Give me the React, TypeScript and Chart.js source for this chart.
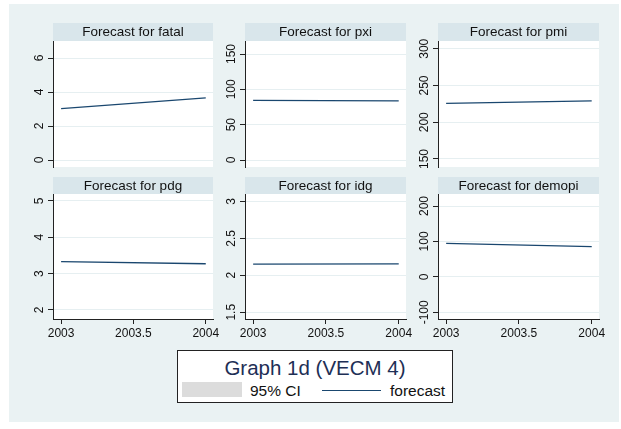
import React, { useEffect, useRef } from "react";
import { Chart, registerables } from "chart.js";

Chart.register(...registerables);

// ---- data ----
const years = [2003, 2004];
const xTicks = [2003, 2003.5, 2004];

const fatal = [3.02, 3.66];
const pxi = [84.5, 83.6];
const pmi = [225.6, 229.1];
const pdg = [3.33, 3.27];
const idg = [2.15, 2.155];
const demopi = [94.5, 85.3];

const fatalTicks = [0, 2, 4, 6];
const pxiTicks = [0, 50, 100, 150];
const pmiTicks = [150, 200, 250, 300];
const pdgTicks = [2, 3, 4, 5];
const idgTicks = [1.5, 2, 2.5, 3];
const demopiTicks = [-100, 0, 100, 200];

const panelNames = ["fatal", "pxi", "pmi", "pdg", "idg", "demopi"];
const panelValues = [fatal, pxi, pmi, pdg, idg, demopi];
const panelTicks = [fatalTicks, pxiTicks, pmiTicks, pdgTicks, idgTicks, demopiTicks];
const panelMin = [-0.41, -9.9, 139.1, 1.75, 1.409, -118.9];
const panelMax = [7.0, 168.4, 310.5, 5.19, 3.099, 233.9];
const xMin = 2002.944;
const xMax = 2004.05;

const legendTitle = "Graph 1d (VECM 4)";
const legendCI = "95% CI";
const legendForecast = "forecast";

// ---- layout ----
const colL = [53, 245, 438];
const colR = [213, 406, 599];
const rowT = [23, 177];
const rowPT = [41, 194];
const rowPB = [167, 319];
const AXW = 30;
const PADR = 16;
const XAXH = 26;

const FONT = '"Liberation Sans", Arial, Helvetica, sans-serif';
const NAVY = "#1a476f";
const AXIS = "#222";

function Panel({ idx }: { idx: number }) {
  const ref = useRef<HTMLCanvasElement>(null);
  const col = idx % 3;
  const row = Math.floor(idx / 3);
  const bottom = row === 1;
  const left = colL[col] - AXW;
  const width = colR[col] - colL[col] + AXW + PADR;
  const top = rowT[row];
  const height = rowPB[row] - rowT[row] + (bottom ? XAXH : 2);

  useEffect(() => {
    if (!ref.current) return;
    const ticks = panelTicks[idx];
    const vals = panelValues[idx];
    const panelPlugin = {
      id: "panelDeco",
      beforeDraw(chart: any) {
        const { ctx, chartArea } = chart;
        ctx.save();
        ctx.fillStyle = "#ffffff";
        ctx.fillRect(chartArea.left, chartArea.top, chartArea.right - chartArea.left, chartArea.bottom - chartArea.top);
        ctx.fillStyle = "#d9e6eb";
        ctx.fillRect(chartArea.left, 0, chartArea.right - chartArea.left, chartArea.top);
        ctx.fillStyle = "#111";
        ctx.font = `13.5px ${FONT}`;
        ctx.textAlign = "center";
        ctx.textBaseline = "middle";
        ctx.fillText("Forecast for " + panelNames[idx], (chartArea.left + chartArea.right) / 2, chartArea.top / 2 + 0.5);
        ctx.restore();
      },
      afterDraw(chart: any) {
        const { ctx, chartArea } = chart;
        const ys = chart.scales.y;
        ctx.save();
        ctx.fillStyle = "#111";
        ctx.font = `12px ${FONT}`;
        ctx.textAlign = "center";
        ctx.textBaseline = "middle";
        ys.ticks.forEach((t: any) => {
          const py = ys.getPixelForValue(t.value);
          ctx.save();
          ctx.translate(chartArea.left - 13, py);
          ctx.rotate(-Math.PI / 2);
          ctx.fillText(String(t.value), 0, 0);
          ctx.restore();
        });
        if (bottom) {
          const xs = chart.scales.x;
          xs.ticks.forEach((t: any) => {
            const px = xs.getPixelForValue(t.value);
            ctx.fillText(String(t.value), px, chartArea.bottom + 15);
          });
        }
        ctx.restore();
      },
    };
    const chart = new Chart(ref.current, {
      type: "line",
      data: {
        datasets: [
          {
            label: "forecast",
            data: years.map((y, i) => ({ x: y, y: vals[i] })),
            borderColor: NAVY,
            borderWidth: 1.3,
            pointRadius: 0,
            fill: false,
          },
        ],
      },
      options: {
        animation: false,
        responsive: false,
        devicePixelRatio: 1,
        layout: { padding: { left: 0, right: PADR, top: rowPT[row] - rowT[row], bottom: bottom ? 0 : 2 } },
        plugins: { legend: { display: false }, tooltip: { enabled: false }, title: { display: false } },
        scales: {
          x: {
            type: "linear",
            min: xMin,
            max: xMax,
            display: bottom,
            afterBuildTicks: (s: any) => {
              s.ticks = xTicks.map((v) => ({ value: v }));
            },
            afterFit: (s: any) => {
              s.height = bottom ? XAXH : 0;
            },
            ticks: { display: false },
            grid: { drawOnChartArea: false, drawTicks: true, tickLength: 5, color: AXIS, tickColor: AXIS },
            border: { display: true, color: AXIS, width: 1 },
          },
          y: {
            type: "linear",
            min: panelMin[idx],
            max: panelMax[idx],
            afterBuildTicks: (s: any) => {
              s.ticks = ticks.map((v) => ({ value: v }));
            },
            afterFit: (s: any) => {
              s.width = AXW;
            },
            ticks: { display: false },
            grid: { drawOnChartArea: true, drawTicks: true, tickLength: 5, color: "#e6eff1", tickColor: AXIS },
            border: { display: true, color: AXIS, width: 1 },
          },
        },
      },
      plugins: [panelPlugin],
    });
    return () => chart.destroy();
  }, [idx]);

  return (
    <canvas
      ref={ref}
      width={width}
      height={height}
      style={{ position: "absolute", left, top, width, height }}
    />
  );
}

export default function App() {
  return (
    <div
      style={{
        position: "fixed",
        left: 0,
        top: 0,
        width: 621,
        height: 429,
        background: "#ffffff",
        fontFamily: FONT,
        overflow: "hidden",
      }}
    >
      <div style={{ position: "absolute", left: 9, top: 4, width: 610, height: 418, background: "#eaf2f3" }} />
      {panelNames.map((_, i) => (
        <Panel key={i} idx={i} />
      ))}
      <div
        style={{
          position: "absolute",
          left: 177,
          top: 350,
          width: 276,
          height: 53,
          boxSizing: "border-box",
          border: `1px solid ${AXIS}`,
          background: "#ffffff",
        }}
      >
        <div
          style={{
            position: "absolute",
            left: 0,
            right: 0,
            top: 5,
            height: 24,
            lineHeight: "24px",
            textAlign: "center",
            fontSize: 20.5,
            color: "#1e2f56",
            whiteSpace: "nowrap",
          }}
        >
          {legendTitle}
        </div>
        <div style={{ position: "absolute", left: 4, top: 31, width: 60, height: 15, background: "#dcdcdc" }} />
        <div
          style={{
            position: "absolute",
            left: 72,
            top: 30,
            height: 20,
            lineHeight: "20px",
            fontSize: 15.5,
            color: "#111",
            whiteSpace: "nowrap",
          }}
        >
          {legendCI}
        </div>
        <div style={{ position: "absolute", left: 144, top: 39, width: 59, height: 1.3, background: NAVY }} />
        <div
          style={{
            position: "absolute",
            left: 212,
            top: 30,
            height: 20,
            lineHeight: "20px",
            fontSize: 15.5,
            color: "#111",
            whiteSpace: "nowrap",
          }}
        >
          {legendForecast}
        </div>
      </div>
    </div>
  );
}
